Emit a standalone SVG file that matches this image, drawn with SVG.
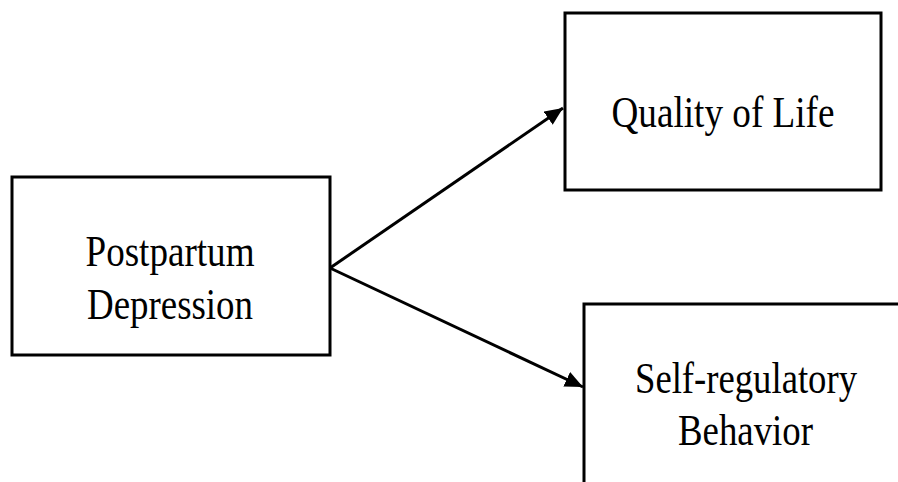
<svg xmlns="http://www.w3.org/2000/svg" width="898" height="482" viewBox="0 0 898 482">
<style>
.box{fill:#fff;stroke:#000;stroke-width:3}
.lbl{font-family:"Liberation Serif","Times New Roman",serif;font-size:45px;fill:#000;text-anchor:middle}
.edge{stroke:#000;stroke-width:3;fill:none}
</style>
<defs>
<marker id="ah" markerUnits="userSpaceOnUse" markerWidth="20" markerHeight="18" refX="18" refY="8" orient="auto">
<path d="M0,0 L18,8 L0,16 Z" fill="#000"/>
</marker>
</defs>
<rect width="898" height="482" fill="#fff"/>
<g id="edges">
<line class="edge" x1="330" y1="268" x2="563" y2="108" marker-end="url(#ah)"/>
<line class="edge" x1="330" y1="268" x2="583" y2="387" marker-end="url(#ah)"/>
</g>
<g id="ppd">
<rect class="box" x="12" y="177" width="318" height="178"/>
<text class="lbl" x="170" y="266" textLength="169" lengthAdjust="spacingAndGlyphs">Postpartum</text>
<text class="lbl" x="170" y="319" textLength="166" lengthAdjust="spacingAndGlyphs">Depression</text>
</g>
<g id="qol">
<rect class="box" x="565" y="13" width="316" height="177"/>
<text class="lbl" x="723" y="127" textLength="223" lengthAdjust="spacingAndGlyphs">Quality of Life</text>
</g>
<g id="srb">
<rect class="box" x="584" y="304" width="330" height="200"/>
<text class="lbl" x="746" y="393" textLength="222" lengthAdjust="spacingAndGlyphs">Self-regulatory</text>
<text class="lbl" x="745.5" y="445" textLength="135" lengthAdjust="spacingAndGlyphs">Behavior</text>
</g>
</svg>
